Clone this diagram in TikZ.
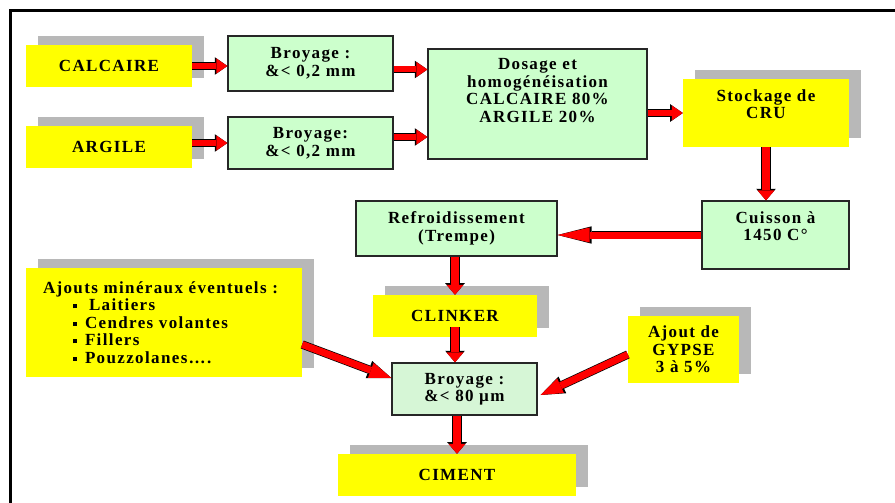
\documentclass[tikz,border=0pt]{standalone}
\usepackage{fontspec}
\setmainfont{Liberation Serif}[LetterSpace=8]
\usetikzlibrary{arrows.meta,shadows}

\definecolor{jaune}{RGB}{255,255,0}
\definecolor{vertclair}{RGB}{204,255,204}
\definecolor{vertpoint}{RGB}{214,246,214}
\definecolor{ombre}{RGB}{184,184,184}
\newcommand{\puce}{\rule[2.5pt]{4pt}{4pt}}

\begin{document}
\begin{tikzpicture}[x=1pt,y=-1pt,
	every node/.style={font=\bfseries\fontsize{17}{17.5}\selectfont, align=center, inner sep=0pt},
	ombrage/.style={general shadow={fill=ombre, shadow xshift=12pt, shadow yshift=9pt}},
	jaunebox/.style={fill=jaune, ombrage},
	vertbox/.style={fill=vertclair, draw=black!85, line width=1.2pt},
	fleche/.style={red, line width=6pt, -{Triangle[length=11pt,width=15pt,line width=0pt]},
		preaction={draw=black, line width=7.4pt, -{Triangle[length=12.6pt,width=17.6pt,line width=0pt]}}},
	flecheV/.style={red, line width=8pt, -{Triangle[length=10pt,width=17pt,line width=0pt]},
		preaction={draw=black, line width=9.4pt, -{Triangle[length=11.6pt,width=19.6pt,line width=0pt]}}},
	flecheL/.style={red, line width=7pt, -{Triangle[length=32pt,width=15pt,line width=0pt]},
		preaction={draw=black, line width=8.4pt, -{Triangle[length=34pt,width=17.4pt,line width=0pt]}}},
	flecheD/.style={red, line width=7pt, -{Triangle[length=22pt,width=16pt,line width=0pt]},
		preaction={draw=black, line width=8.4pt, -{Triangle[length=24pt,width=18.4pt,line width=0pt]}}}]

	\useasboundingbox (0,0) rectangle (895,503);

	% Cadre
	\draw [line width=3.5pt] (10.5,503) -- (10.5,10.5) -- (895,10.5);

	% Matieres premieres
	\node [jaunebox, minimum width=166pt, minimum height=42pt] (calcaire) at (109,66) {CALCAIRE};
	\node [jaunebox, minimum width=166pt, minimum height=42pt] (argile) at (109,147) {ARGILE};

	\node [vertbox, minimum width=165pt, minimum height=55pt] (broyA) at (310.5,63.5) {Broyage :\\\&< 0,2 mm};
	\node [vertbox, minimum width=165pt, minimum height=52pt] (broyB) at (310.5,143) {Broyage:\\\&< 0,2 mm};

	\node [vertbox, minimum width=219pt, minimum height=110pt] (dosage) at (537.5,104)
		{Dosage et\\homogénéisation\\CALCAIRE 80\%\\ARGILE 20\%\\[10pt]~};

	\node [jaunebox, minimum width=166pt, minimum height=68pt] (stockage) at (766,113) {Stockage de\\CRU\\~};

	% Cuisson
	\node [vertbox, minimum width=147pt, minimum height=68pt] (cuisson) at (775.5,235) {Cuisson à\\1450 C°\\~};
	\node [vertbox, minimum width=201pt, minimum height=55pt] (refroid) at (456.5,228.5) {Refroidissement\\(Trempe)};

	\node [jaunebox, minimum width=164pt, minimum height=42pt] (clinker) at (455,316) {CLINKER};

	% Broyage final
	\node [vertbox, fill=vertpoint, minimum width=145pt, minimum height=52pt] (broyC) at (464.5,389) {Broyage :\\\&< 80 µm};
	\node [jaunebox, minimum width=238pt, minimum height=42pt] (ciment) at (457,475) {CIMENT};

	\node [jaunebox, minimum width=276pt, minimum height=109pt, inner xsep=17pt, text width=242pt, align=left] (ajouts) at (164,322.5)
		{Ajouts minéraux éventuels :\\
		\hspace*{30pt}\puce\hspace{12pt}Laitiers\\
		\hspace*{30pt}\puce\hspace{8pt}Cendres volantes\\
		\hspace*{30pt}\puce\hspace{8pt}Fillers\\
		\hspace*{30pt}\puce\hspace{8pt}Pouzzolanes….};
	\node [jaunebox, minimum width=111pt, minimum height=67pt] (gypse) at (683.5,349.5) {Ajout de\\GYPSE\\3 à 5\%};

	% Fleches
	\draw [fleche] (calcaire.east) -- (calcaire.east -| broyA.west);
	\draw [fleche] (broyB.west -| argile.east) -- (broyB.west);
	\draw [fleche] ([yshift=-6pt]broyA.east) -- ([yshift=-6pt]broyA.east -| dosage.west);
	\draw [fleche] ([yshift=6pt]broyB.east) -- ([yshift=6pt]broyB.east -| dosage.west);
	\draw [fleche] (dosage.east |- stockage.west) -- (stockage.west);
	\draw [flecheV] (stockage.south) -- (stockage.south |- cuisson.north);
	\draw [flecheL] (cuisson.west) -- (cuisson.west -| refroid.east);
	\draw [flecheV] (clinker.north |- refroid.south) -- (clinker.north);
	\draw [flecheV] ([yshift=10pt]clinker.south) -- (clinker.south |- broyC.north);
	\draw [flecheV] (ciment.north |- broyC.south) -- (ciment.north);
	\draw [flecheD] ([yshift=-22pt]ajouts.east) -- ([yshift=11pt]broyC.west);
	\draw [flecheD] ([yshift=-5pt]gypse.west) -- ([xshift=3pt,yshift=-6pt]broyC.east);

\end{tikzpicture}
\end{document}
